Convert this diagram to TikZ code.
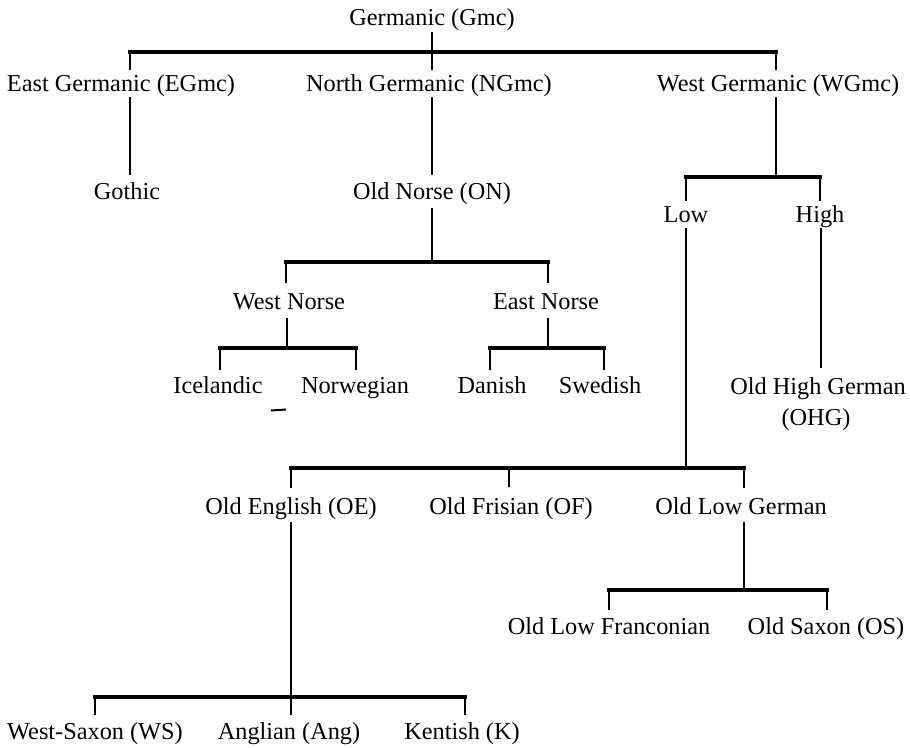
\documentclass[tikz,border=0pt]{standalone}
\usepackage{fontspec}
\setmainfont{Liberation Serif}
\begin{document}
\begin{tikzpicture}[x=1pt,y=-1pt,
  lbl/.style={inner sep=0pt, anchor=base, font=\fontsize{24.3}{28}\selectfont},
  bar/.style={line width=3.2pt, line cap=rect},
  stem/.style={line width=1.3pt},
  speck/.style={line width=2pt}]
\useasboundingbox (0,0) rectangle (910,747);

% ---------- labels ----------
\node[lbl] (gmc)  at (432,25.5)  {Germanic (Gmc)};
\node[lbl] (egmc) at (121,91)    {East Germanic (EGmc)};
\node[lbl] (ngmc) at (429,91)    {North Germanic (NGmc)};
\node[lbl] (wgmc) at (778,91)    {West Germanic (WGmc)};
\node[lbl] (goth) at (127,199.5) {Gothic};
\node[lbl] (on)   at (432,199.5) {Old Norse (ON)};
\node[lbl] (low)  at (686,222.5) {Low};
\node[lbl] (high) at (820,222.5) {High};
\node[lbl] (wn)   at (289,309)   {West Norse};
\node[lbl] (en)   at (546,309)   {East Norse};
\node[lbl] (ice)  at (218,393)   {Icelandic};
\node[lbl] (nor)  at (355,393)   {Norwegian};
\node[lbl] (dan)  at (492,393)   {Danish};
\node[lbl] (swe)  at (600,393)   {Swedish};
\node[lbl] (ohg)  at (818,394)   {Old High German};
\node[lbl] (ohgb) at (816,425)   {(OHG)};
\node[lbl] (oe)   at (291,514.5) {Old English (OE)};
\node[lbl] (of)   at (511,514.5) {Old Frisian (OF)};
\node[lbl] (olg)  at (741,514.5) {Old Low German};
\node[lbl] (olf)  at (609,634)   {Old Low Franconian};
\node[lbl] (os)   at (826,634)   {Old Saxon (OS)};
\node[lbl] (ws)   at (95,739.5)  {West-Saxon (WS)};
\node[lbl] (ang)  at (289,739.5) {Anglian (Ang)};
\node[lbl] (k)    at (462,739.5) {Kentish (K)};

% ---------- junction points ----------
\coordinate (gmc-b)  at (432,32);
\coordinate (b0m)    at (432,52);
\coordinate (b0l)    at (130,52);
\coordinate (b0r)    at (776,52);
\coordinate (egmc-t) at (130,70);
\coordinate (ngmc-t) at (432,70);
\coordinate (wgmc-t) at (776,70);
\coordinate (egmc-b) at (130,97);
\coordinate (ngmc-b) at (432,97);
\coordinate (wgmc-b) at (776,97);
\coordinate (goth-t) at (130,175);
\coordinate (on-t)   at (432,175);
\coordinate (b1m)    at (776,177);
\coordinate (b1l)    at (686,177);
\coordinate (b1r)    at (820,177);
\coordinate (low-t)  at (686,201);
\coordinate (high-t) at (820,201);
\coordinate (low-b)  at (686,228);
\coordinate (high-b) at (821,228);
\coordinate (ohg-t)  at (821,368);
\coordinate (on-b)   at (432,208);
\coordinate (b2m)    at (432,262);
\coordinate (b2l)    at (286,262);
\coordinate (b2r)    at (548,262);
\coordinate (wn-t)   at (286,283);
\coordinate (en-t)   at (548,283);
\coordinate (wn-b)   at (287,318);
\coordinate (b3m)    at (287,348);
\coordinate (b3l)    at (220,348);
\coordinate (b3r)    at (356,348);
\coordinate (ice-t)  at (220,370);
\coordinate (nor-t)  at (356,370);
\coordinate (en-b)   at (548,318);
\coordinate (b4m)    at (548,348);
\coordinate (b4l)    at (490,348);
\coordinate (b4r)    at (604,348);
\coordinate (dan-t)  at (490,370);
\coordinate (swe-t)  at (604,370);
\coordinate (b5m)    at (686,468);
\coordinate (b5l)    at (291,468);
\coordinate (b5c)    at (509,468);
\coordinate (b5r)    at (744,468);
\coordinate (oe-t)   at (291,488);
\coordinate (of-t)   at (509,487);
\coordinate (olg-t)  at (744,488);
\coordinate (oe-b)   at (291,522);
\coordinate (b6m)    at (291,697);
\coordinate (b6l)    at (95,697);
\coordinate (b6r)    at (465,697);
\coordinate (ws-t)   at (95,715);
\coordinate (ang-t)  at (291,715);
\coordinate (k-t)    at (465,715);
\coordinate (olg-b)  at (744,522);
\coordinate (b7m)    at (744,590);
\coordinate (b7l)    at (609,590);
\coordinate (b7r)    at (827,590);
\coordinate (olf-t)  at (609,610);
\coordinate (os-t)   at (827,610);
\coordinate (sp1)    at (271,410.5);
\coordinate (sp2)    at (286,409.5);

% ---------- Germanic ----------
\draw[stem] (gmc-b) -- (b0m);
\draw[bar]  (b0l) -- (b0r);
\draw[stem] (b0l) -- (egmc-t);
\draw[stem] (b0m) -- (ngmc-t);
\draw[stem] (b0r) -- (wgmc-t);
\draw[stem] (egmc-b) -- (goth-t);
\draw[stem] (ngmc-b) -- (on-t);
\draw[stem] (wgmc-b) -- (b1m);

% ---------- West Germanic ----------
\draw[bar]  (b1l) -- (b1r);
\draw[stem] (b1l) -- (low-t);
\draw[stem] (b1r) -- (high-t);
\draw[stem] (high-b) -- (ohg-t);
\draw[stem] (low-b) -- (b5m);

% ---------- Old Norse ----------
\draw[stem] (on-b) -- (b2m);
\draw[bar]  (b2l) -- (b2r);
\draw[stem] (b2l) -- (wn-t);
\draw[stem] (b2r) -- (en-t);
\draw[stem] (wn-b) -- (b3m);
\draw[bar]  (b3l) -- (b3r);
\draw[stem] (b3l) -- (ice-t);
\draw[stem] (b3r) -- (nor-t);
\draw[stem] (en-b) -- (b4m);
\draw[bar]  (b4l) -- (b4r);
\draw[stem] (b4l) -- (dan-t);
\draw[stem] (b4r) -- (swe-t);
\draw[speck] (sp1) -- (sp2);

% ---------- Low ----------
\draw[bar]  (b5l) -- (b5r);
\draw[stem] (b5l) -- (oe-t);
\draw[stem] (b5c) -- (of-t);
\draw[stem] (b5r) -- (olg-t);
\draw[stem] (oe-b) -- (b6m);
\draw[bar]  (b6l) -- (b6r);
\draw[stem] (b6l) -- (ws-t);
\draw[stem] (b6m) -- (ang-t);
\draw[stem] (b6r) -- (k-t);
\draw[stem] (olg-b) -- (b7m);
\draw[bar]  (b7l) -- (b7r);
\draw[stem] (b7l) -- (olf-t);
\draw[stem] (b7r) -- (os-t);
\end{tikzpicture}
\end{document}
